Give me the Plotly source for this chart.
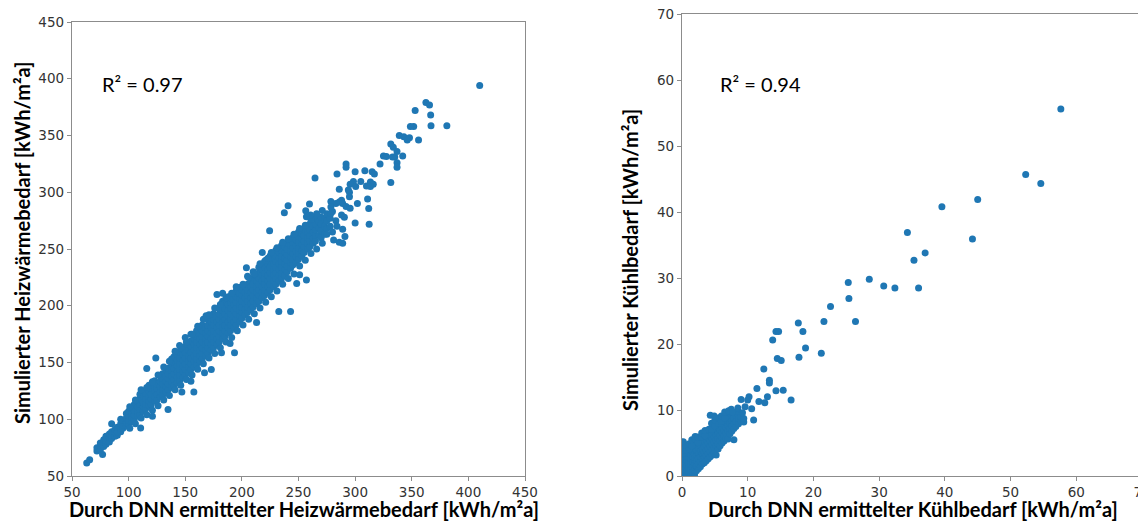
import plotly.graph_objects as go

# ---------------- Left chart: Heizwärmebedarf ----------------
# Dense band read column by column: DNN value -> simulated values
heat_band = {
    72: [72, 75], 75: [73, 77, 79], 78: [76, 80, 82], 80: [78, 81, 85],
    83: [80, 84, 87], 85: [83, 86, 89], 88: [85, 88, 91], 90: [86, 89, 93],
    93: [89, 92, 96, 100], 95: [92, 95, 99], 98: [94, 97, 101, 105],
    100: [96, 99, 103, 107], 103: [98, 101, 105, 110], 105: [100, 104, 108, 113],
    108: [103, 107, 111, 116], 110: [104, 109, 113, 118, 122],
    113: [107, 111, 115, 120], 115: [109, 113, 118, 123],
    118: [112, 116, 120, 125, 130], 120: [113, 118, 122, 127],
    123: [116, 120, 125, 129, 134], 125: [117, 122, 127, 131],
    128: [120, 124, 129, 133, 138], 130: [121, 126, 131, 136, 140],
    133: [124, 129, 133, 138, 143], 135: [126, 131, 136, 140, 145],
    138: [128, 133, 138, 143, 148, 153], 140: [130, 135, 140, 145, 150, 155],
    143: [132, 137, 142, 147, 152, 157], 145: [134, 139, 144, 149, 154, 159, 165],
    148: [137, 142, 147, 152, 157, 162], 150: [139, 144, 149, 154, 159, 164, 172],
    153: [141, 146, 151, 156, 161, 166], 155: [144, 149, 154, 159, 164, 169, 175],
    158: [146, 151, 156, 161, 166, 171], 160: [148, 153, 158, 163, 168, 173, 178],
    163: [151, 156, 161, 166, 171, 176], 165: [153, 158, 163, 168, 173, 178, 183],
    168: [156, 161, 166, 171, 176, 181], 170: [158, 163, 168, 173, 178, 183, 188],
    173: [161, 166, 171, 176, 181, 186], 175: [163, 168, 173, 178, 183, 188, 193],
    178: [166, 171, 176, 181, 186, 191], 180: [168, 173, 178, 183, 188, 193, 198],
    183: [171, 176, 181, 186, 191, 196, 204], 185: [173, 178, 183, 188, 193, 198, 203],
    188: [176, 181, 186, 191, 196, 201, 208], 190: [178, 183, 188, 193, 198, 203, 207],
    193: [181, 186, 191, 196, 201, 206, 211], 195: [183, 188, 193, 198, 203, 208, 213],
    198: [186, 191, 196, 201, 206, 211, 216], 200: [189, 194, 199, 204, 209, 214],
    203: [192, 197, 202, 207, 212, 217], 205: [194, 199, 204, 209, 214, 219, 226],
    208: [197, 202, 207, 212, 217, 222], 210: [199, 204, 209, 214, 219, 224, 230],
    213: [202, 207, 212, 217, 222, 227], 215: [204, 209, 214, 219, 224, 229, 234],
    218: [207, 212, 217, 222, 227, 232], 220: [209, 214, 219, 224, 229, 234, 239],
    223: [212, 217, 222, 227, 232, 237], 225: [214, 219, 224, 229, 234, 239, 244],
    228: [217, 222, 227, 232, 237, 242], 230: [219, 224, 229, 234, 239, 244, 249],
    233: [222, 227, 232, 237, 242, 247], 235: [224, 229, 234, 239, 244, 249, 253],
    238: [227, 232, 237, 242, 247, 252], 240: [230, 235, 240, 245, 250, 255],
    243: [233, 238, 243, 248, 253], 245: [236, 241, 246, 251, 256, 260],
    248: [238, 243, 248, 253, 258], 250: [241, 246, 251, 256, 261, 265],
    253: [244, 249, 254, 259, 264], 255: [247, 252, 257, 262, 267],
    258: [250, 255, 260, 265, 270], 260: [252, 257, 262, 267, 272],
    263: [255, 260, 265, 270], 265: [257, 262, 267, 272, 277],
    268: [262, 268, 274], 270: [260, 266, 272, 278], 273: [263, 270, 276],
    275: [268, 275, 281], 278: [270, 277], 280: [265, 283], 283: [275, 290],
    288: [280, 293], 295: [296, 300],
}

# Points scattered just outside the band edges
heat_edges = {
    101: [92, 111], 106: [96, 117], 111: [101, 126], 116: [104, 128],
    121: [108, 133], 126: [112, 139], 131: [117, 146], 136: [121, 151],
    141: [126, 160], 146: [130, 163], 151: [135, 168], 156: [139, 175],
    161: [144, 182], 166: [149, 188], 171: [154, 192], 176: [158, 198],
    181: [163, 201], 186: [168, 207], 191: [172, 211], 196: [178, 216],
    201: [183, 219], 206: [188, 225], 211: [193, 228], 216: [198, 237],
    221: [203, 240], 226: [208, 247], 231: [213, 251], 236: [219, 256],
    241: [224, 259], 246: [228, 263], 251: [235, 268], 256: [240, 271],
    261: [246, 276], 266: [250, 281], 271: [255, 284],
}

heat_outliers_dnn = [410, 353, 362.5, 365.7, 366.7, 381, 367, 351.7, 348.8, 356,
                     339, 343, 348, 346, 331.5, 333.7, 337, 335, 342, 325, 327.6,
                     333, 322, 337, 337, 331.5, 292, 292, 284, 308.6, 315, 317, 300,
                     298.5, 295.6, 300.5, 305, 313.5, 316, 310, 286, 294, 313.5,
                     311, 302, 312, 312.4, 278.6, 278.6, 278.6, 286, 289, 292, 295.6,
                     290.5, 300, 284, 289, 291, 286, 289, 281, 275, 264.6, 240.8,
                     237.5, 256.4, 259.7, 260.7, 257, 224.5, 218, 223, 251, 248.4,
                     257, 232.6, 243, 204, 213, 193.5, 182, 189.6, 173, 167, 157.6,
                     147, 155, 134.8, 121, 110.6, 116, 124, 85, 63, 65.6, 77,
                     168.4, 178, 183, 195]
heat_outliers_sim = [394, 372, 379, 376.8, 368, 358.5, 358.5, 358, 358, 346,
                     350, 349, 348, 346, 342.6, 339.7, 336, 331, 332, 332, 331.5,
                     331, 325, 326, 322, 308.5, 325, 322, 316, 319, 318, 316, 318,
                     309.4, 307, 305, 309.4, 309, 307, 305.6, 302.6, 302, 305,
                     294, 290, 285.6, 271.8, 291.8, 287, 281.5, 291.5, 290, 287.4, 286,
                     278, 273, 270, 267.4, 261, 256, 255, 258, 263, 312.6, 288.2,
                     282, 283.8, 289.7, 280, 278.5, 266, 247, 241.8, 227.4, 219.7,
                     222.6, 195, 195, 233.5, 185.3, 158.5, 158.5, 166.8, 143.8, 141, 124,
                     124, 133.5, 108.5, 102.6, 92.4, 144.7, 154, 96, 61.5, 64.4, 69,
                     191.2, 210, 211, 216.8]

# ---------------- Right chart: Kühlbedarf ----------------
cool_band = {
    0.1: [0.2, 0.8, 1.5], 0.3: [0.1, 0.6, 1.2, 2.0, 2.8],
    0.5: [0.3, 1.0, 1.8, 2.5, 3.2], 0.8: [0.2, 0.9, 1.6, 2.3, 3.0],
    1.0: [0.5, 1.2, 2.0, 2.8, 3.4], 1.3: [0.3, 1.0, 1.8, 2.6, 3.3],
    1.6: [0.6, 1.4, 2.2, 3.0, 3.8], 1.9: [0.2, 0.9, 1.7, 2.5, 3.3, 4.2, 5.0],
    2.2: [0.8, 1.5, 2.3, 3.1, 3.9, 4.6], 2.5: [1.1, 1.9, 2.7, 3.5, 4.3],
    2.8: [1.4, 2.2, 3.0, 3.8, 4.6, 5.8], 3.1: [1.8, 2.6, 3.4, 4.2, 5.0],
    3.4: [2.0, 2.8, 3.6, 4.4, 5.2], 3.7: [2.3, 3.1, 3.9, 4.7, 5.5],
    4.0: [2.6, 3.4, 4.2, 5.0, 5.8, 6.4], 4.3: [2.9, 3.7, 4.5, 5.3, 6.1],
    4.6: [3.2, 4.0, 4.8, 5.6, 6.4, 7.8], 4.9: [3.5, 4.3, 5.1, 5.9, 6.7],
    5.2: [3.2, 4.6, 5.4, 6.2, 7.0], 5.5: [4.1, 4.9, 5.7, 6.5, 7.3],
    5.8: [4.6, 5.4, 6.2, 7.0], 6.1: [5.0, 5.8, 6.6, 7.4],
    6.4: [5.3, 6.1, 6.9, 7.7], 6.7: [5.7, 6.5, 7.3, 8.1],
    7.0: [5.6, 6.8, 7.6, 8.4, 9.6], 7.3: [6.4, 7.2, 8.0, 8.8],
    7.6: [6.8, 7.6, 8.4, 9.2], 7.9: [5.5, 7.2, 8.0, 8.8],
    8.2: [7.5, 8.3, 9.2], 8.6: [7.9, 8.7], 9.0: [8.3, 9.0], 9.4: [8.2, 8.7],
}

# Upper edge of the low cluster
cool_edges = {
    0.2: [3.5, 4.3, 5.2], 0.6: [3.9, 4.7], 1.1: [4.1, 4.9], 1.5: [4.6, 5.5],
    2.0: [5.6, 6.0], 2.4: [5.1, 5.9], 3.0: [5.9, 6.5], 3.5: [6.1, 6.9],
    4.1: [7.1], 4.5: [7.1, 8.0], 5.0: [7.6, 8.4], 5.6: [8.0, 8.8],
    6.0: [8.3, 9.1], 6.5: [8.8, 9.7], 7.5: [9.7, 10.1], 8.0: [9.6],
    8.5: [9.8, 10.3], 9.2: [9.6],
}

cool_outliers_dnn = [57.65, 52.3, 54.6, 45.0, 39.55, 44.2, 34.3, 37.0, 35.3, 28.5,
                     25.3, 30.7, 32.4, 36.0, 25.4, 22.6, 21.6, 26.4, 17.7, 14.3,
                     14.7, 18.4, 13.8, 18.8, 21.2, 17.8, 14.5, 15.1, 12.45, 13.3,
                     13.3, 11.4, 15.4, 14.3, 9.0, 10.2, 10.0, 13.0, 16.6, 11.7,
                     12.6, 9.6, 10.6, 10.9, 4.3, 4.9, 7.1, 7.7]
cool_outliers_sim = [55.6, 45.7, 44.3, 41.9, 40.8, 35.9, 36.9, 33.8, 32.7, 29.8,
                     29.3, 28.8, 28.5, 28.5, 26.9, 25.7, 23.4, 23.4, 23.2, 21.9,
                     21.9, 21.9, 20.6, 19.4, 18.6, 18.0, 17.8, 17.5, 16.2, 14.5,
                     14.1, 13.25, 13.0, 12.9, 11.6, 12.0, 11.5, 12.0, 11.5, 11.3,
                     11.1, 10.5, 10.2, 8.5, 9.2, 9.1, 9.9, 9.7]


def flatten(columns):
    xs, ys = [], []
    for x, vals in columns.items():
        for v in vals:
            xs.append(x)
            ys.append(v)
    return xs, ys


hb_x, hb_y = flatten(heat_band)
he_x, he_y = flatten(heat_edges)
cb_x, cb_y = flatten(cool_band)
ce_x, ce_y = flatten(cool_edges)
heat_x = hb_x + he_x + heat_outliers_dnn
heat_y = hb_y + he_y + heat_outliers_sim
cool_x = cb_x + ce_x + cool_outliers_dnn
cool_y = cb_y + ce_y + cool_outliers_sim

BLUE = "#1f77b4"
# The page body has an 8px margin, so the figure is 8px smaller than the window
OFF = 8
W, H = 1146 - OFF, 522 - OFF

fig = go.Figure()
fig.add_trace(go.Scatter(x=heat_x, y=heat_y, mode="markers", xaxis="x", yaxis="y",
                         marker=dict(color=BLUE, size=7, line=dict(width=0)),
                         showlegend=False))
fig.add_trace(go.Scatter(x=cool_x, y=cool_y, mode="markers", xaxis="x2", yaxis="y2",
                         marker=dict(color=BLUE, size=7, line=dict(width=0)),
                         showlegend=False))

axis_common = dict(showline=True, linecolor="#8c8c8c", linewidth=1.3, mirror=True,
                   ticks="outside", ticklen=4, tickwidth=1.2, tickcolor="#8c8c8c",
                   showgrid=False, zeroline=False, automargin=False,
                   ticklabeloverflow="allow",
                   tickfont=dict(family="DejaVu Sans", size=13.5, color="#333333"))


def px_x(p):
    return (p - OFF) / W


def px_y(p):
    return 1 - (p - OFF) / H


fig.update_layout(
    width=W, height=H,
    margin=dict(l=0, r=0, t=0, b=0),
    paper_bgcolor="white", plot_bgcolor="white",
    xaxis=dict(domain=[px_x(72), px_x(525)], range=[50, 450], tick0=50, dtick=50,
               anchor="y", **axis_common),
    yaxis=dict(domain=[px_y(476), px_y(22)], range=[50, 450], tick0=50, dtick=50,
               anchor="x", **axis_common),
    xaxis2=dict(domain=[px_x(682), px_x(1142)], range=[0, 70], dtick=10,
                anchor="y2", **axis_common),
    yaxis2=dict(domain=[px_y(476), px_y(14)], range=[0, 70], dtick=10,
                anchor="x2", **axis_common),
)

title_font = dict(family="Lato", size=20, color="black")
ann = [
    dict(text="<b>Durch DNN ermittelter Heizwärmebedarf [kWh/m²a]</b>",
         x=px_x(304), y=px_y(509), xanchor="center", yanchor="middle", font=title_font),
    dict(text="<b>Simulierter Heizwärmebedarf [kWh/m²a]</b>", textangle=-90,
         x=px_x(22), y=px_y(243), xanchor="center", yanchor="middle", font=title_font),
    dict(text="<b>Durch DNN ermittelter Kühlbedarf [kWh/m²a]</b>",
         x=px_x(913), y=px_y(509), xanchor="center", yanchor="middle", font=title_font),
    dict(text="<b>Simulierter Kühlbedarf [kWh/m²a]</b>", textangle=-90,
         x=px_x(630), y=px_y(260), xanchor="center", yanchor="middle", font=title_font),
    dict(text="R² = 0.97", x=px_x(100), y=px_y(84), xanchor="left", yanchor="middle",
         font=dict(family="Lato", size=20, color="black")),
    dict(text="R² = 0.94", x=px_x(718), y=px_y(84), xanchor="left", yanchor="middle",
         font=dict(family="Lato", size=20, color="black")),
]
for a in ann:
    a.update(xref="paper", yref="paper", showarrow=False)
fig.update_layout(annotations=ann)

fig.write_html("out.html")
